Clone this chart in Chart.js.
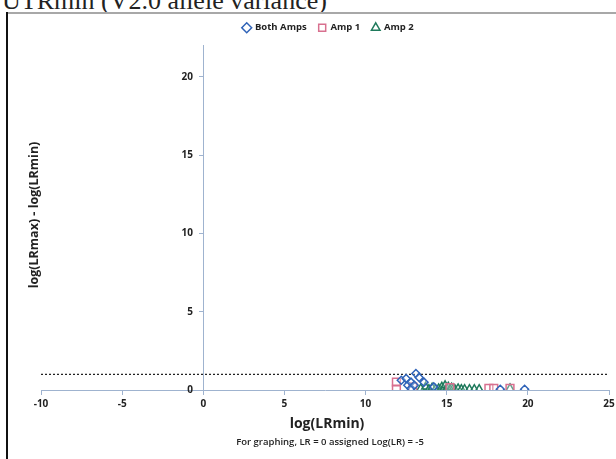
<!DOCTYPE html>
<html>
<head>
<meta charset="utf-8">
<script src="https://cdn.jsdelivr.net/npm/chart.js@4.4.0/dist/chart.umd.min.js"></script>
<style>
  html, body { margin: 0; padding: 0; background: #fff; }
  #wrap { position: relative; width: 616px; height: 459px; overflow: hidden; }
  #head { position: absolute; left: 0; top: 0; width: 616px; height: 12px; overflow: hidden; }
  #head span { position: absolute; left: 2px; top: -14px; font: 26px "Liberation Serif", serif; color: #222; white-space: nowrap; }
  #frameTop { position: absolute; left: 6px; top: 12px; width: 610px; border-top: 2px solid #a8a8a8; }
  #frameLeft { position: absolute; left: 6px; top: 12px; height: 447px; border-left: 2px solid #111; }
  canvas { position: absolute; left: 0; top: 0; }
</style>
</head>
<body>
<div id="wrap">
  <div id="head"><span>UTRmin (V2.0 allele variance)</span></div>
  <div id="frameTop"></div>
  <div id="frameLeft"></div>
  <canvas id="chart" width="616" height="459"></canvas>
</div>
<script>
// values
const bothAmpsX = [12.2, 12.5, 12.6, 12.8, 12.8, 13.0, 13.1, 13.3, 13.6, 14.2, 18.3, 19.8];
const bothAmpsY = [0.62, 0.73, 0.3, 0.5, 0.1, 0.3, 1.05, 0.8, 0.5, 0.2, 0.05, 0.05];

const amp1X = [11.9, 11.9, 12.9, 15.2, 17.6, 17.9, 18.9];
const amp1Y = [0.5, 0.05, 0.2, 0.15, 0.1, 0.1, 0.1];

const amp2X = [13.4, 13.7, 13.9, 14.1, 14.3, 14.5, 14.7, 14.8, 14.9, 15.0, 15.1, 15.2, 15.3, 15.4, 15.5, 15.7, 15.9, 16.1, 16.4, 16.7, 17.0, 18.9];
const amp2Y = [0.1, 0.2, 0.05, 0.15, 0.05, 0.1, 0.2, 0.05, 0.3, 0.1, 0.2, 0.05, 0.15, 0.1, 0.05, 0.1, 0.05, 0.05, 0.05, 0.05, 0.05, 0.1];

const cutoffX = [-10, 25];
const cutoffY = [1, 1];

const xTicks = [-10, -5, 0, 5, 10, 15, 20, 25];
const yTicks = [0, 5, 10, 15, 20];
const yMax = 22;

function toPoints(xs, ys) {
  return xs.map((x, i) => ({ x: x, y: ys[i] }));
}

const axisColor = '#9fb3cf';
const tickFont = { family: 'Open Sans', size: 10, weight: 'bold' };

// axis titles, drawn where Excel puts them (not next to the crossing axes)
const axisTitles = {
  id: 'axisTitles',
  afterInit(chart) {
    // a little more room under the legend
    const legend = chart.legend;
    const fit = legend.fit;
    legend.fit = function () {
      fit.call(legend);
      legend.height += 3;
    };
  },
  afterDraw(chart) {
    const ctx = chart.ctx;
    ctx.save();
    ctx.fillStyle = '#222';
    ctx.textAlign = 'center';
    ctx.textBaseline = 'middle';
    ctx.font = 'bold 14px "Open Sans"';
    ctx.fillText('log(LRmin)', 327, 424);
    ctx.font = '600 9.5px "Open Sans"';
    ctx.fillText('For graphing, LR = 0 assigned Log(LR) = -5', 330, 442);
    ctx.translate(34, 215);
    ctx.rotate(-Math.PI / 2);
    ctx.font = 'bold 12.5px "Open Sans"';
    ctx.fillText('log(LRmax) - log(LRmin)', 0, 0);
    ctx.restore();
  }
};

new Chart(document.getElementById('chart'), {
  type: 'scatter',
  data: {
    datasets: [
      {
        label: 'Both Amps',
        data: toPoints(bothAmpsX, bothAmpsY),
        pointStyle: 'rectRot',
        pointRadius: 4,
        borderColor: '#2f63b8',
        backgroundColor: 'rgba(255,255,255,0.3)',
        pointBorderWidth: 1.5
      },
      {
        label: 'Amp 1',
        data: toPoints(amp1X, amp1Y),
        pointStyle: 'rect',
        pointRadius: 5.5,
        borderColor: '#d8708f',
        backgroundColor: 'rgba(255,255,255,0.3)',
        pointBorderWidth: 1.5
      },
      {
        label: 'Amp 2',
        data: toPoints(amp2X, amp2Y),
        pointStyle: 'triangle',
        pointRadius: 4.5,
        borderColor: '#1f7a5c',
        backgroundColor: 'rgba(255,255,255,0.3)',
        pointBorderWidth: 1.5
      },
      {
        label: 'cutoff',
        type: 'line',
        data: toPoints(cutoffX, cutoffY),
        borderColor: '#222',
        borderWidth: 1.3,
        borderDash: [2, 2],
        pointRadius: 0,
        fill: false
      }
    ]
  },
  options: {
    responsive: false,
    animation: false,
    layout: { padding: { left: 41, right: 0, top: 11, bottom: 69 } },
    plugins: {
      legend: {
        position: 'top',
        labels: {
          usePointStyle: true,
          boxWidth: 7,
          boxHeight: 7,
          padding: 12,
          color: '#222',
          font: { family: 'Open Sans', size: 9.5, weight: 'bold' },
          filter: (item) => item.datasetIndex < 3
        }
      },
      tooltip: { enabled: false }
    },
    scales: {
      x: {
        type: 'linear',
        position: { y: 0 },
        min: xTicks[0],
        max: xTicks[xTicks.length - 1],
        afterBuildTicks: (scale) => { scale.ticks = xTicks.map(v => ({ value: v })); },
        afterFit: (scale) => { scale.height = 0; scale.paddingLeft = 0; scale.paddingRight = 0; },
        grid: { drawOnChartArea: false, tickLength: 4, color: axisColor },
        border: { color: axisColor, width: 1 },
        ticks: { color: '#222', font: tickFont, padding: 4 }
      },
      y: {
        type: 'linear',
        position: { x: 0 },
        min: 0,
        max: yMax,
        afterBuildTicks: (scale) => { scale.ticks = yTicks.map(v => ({ value: v })); },
        afterFit: (scale) => { scale.width = 0; scale.paddingTop = 0; scale.paddingBottom = 0; },
        grid: { drawOnChartArea: false, tickLength: 4, color: axisColor },
        border: { color: axisColor, width: 1 },
        ticks: {
          color: '#222',
          font: tickFont,
          // labels sit a few pixels left of the crossing axis
          callback: (value) => value + '    '
        }
      }
    }
  },
  plugins: [axisTitles]
});
</script>
</body>
</html>
